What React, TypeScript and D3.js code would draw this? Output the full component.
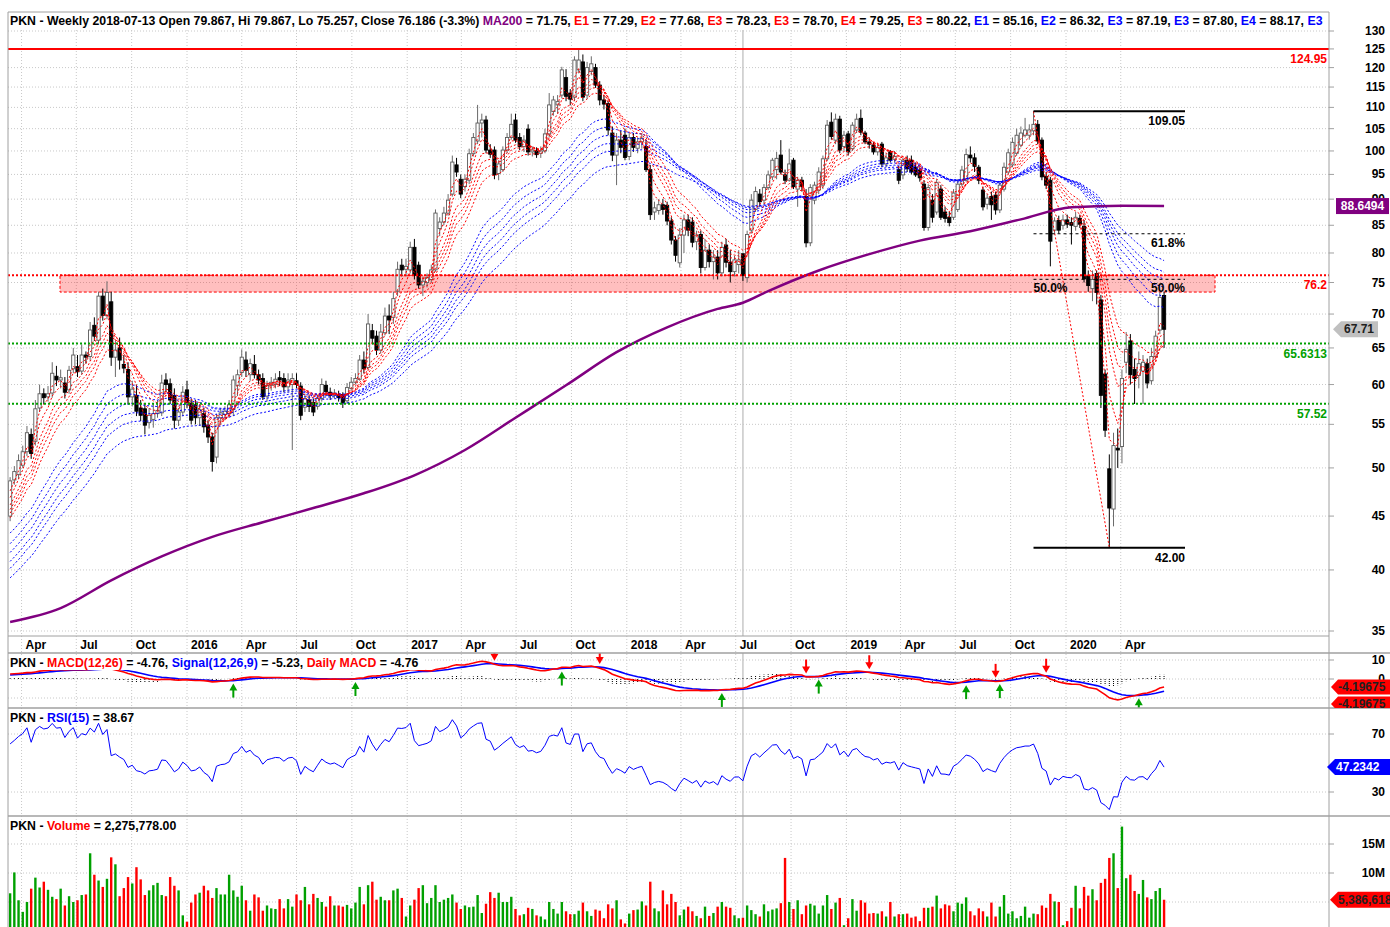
import React from 'react';
import * as d3 from 'd3';

// ---------- DATA ----------
const FIRST_WEEK = new Date(2015, 2, 13); // weekly candles, Fridays

const open = [
  45.0,48.7,49.3,50.3,51.8,53.8,53.0,57.0,58.8,58.4,
  58.9,61.1,60.6,60.2,59.3,62.1,62.4,61.8,64.0,63.8,
  68.3,66.1,72.8,69.8,71.9,63.7,65.0,62.7,62.0,58.4,
  58.6,57.0,56.9,55.2,55.6,56.3,56.4,60.6,60.1,58.6,
  55.5,56.5,59.3,57.6,57.4,55.8,56.3,54.9,53.5,51.2,
  55.8,56.2,56.3,56.8,59.9,61.6,63.3,61.3,62.7,61.3,
  60.8,58.5,59.9,60.0,60.9,60.8,59.7,60.0,60.5,59.8,
  57.1,58.0,57.7,57.2,58.2,59.9,59.0,58.6,58.7,58.7,
  57.9,59.5,60.3,60.7,63.3,62.3,67.5,66.7,64.7,67.2,
  69.7,69.5,73.6,77.9,77.2,77.1,81.0,77.9,74.6,75.0,
  75.5,77.1,84.4,85.6,87.3,91.0,97.0,94.0,92.5,93.8,
  99.4,102.2,106.3,107.0,100.2,100.2,95.2,96.0,100.2,103.0,
  107.0,103.0,101.0,104.9,99.8,100.0,99.5,100.0,103.8,109.0,
  110.6,113.0,117.4,113.5,112.5,119.4,121.5,113.0,119.0,120.0,
  115.5,111.8,110.9,104.0,99.1,102.4,103.5,98.8,103.0,100.6,
  102.0,101.0,96.0,87.5,87.8,88.9,88.8,85.8,82.3,78.3,
  83.2,86.0,85.6,82.0,83.3,77.5,80.5,78.5,79.3,76.6,
  81.4,78.4,76.8,78.0,79.867,75.8,84.1,88.0,91.0,89.8,
  92.3,94.5,96.0,99.1,94.9,93.8,98.0,92.0,93.8,90.5,
  81.8,89.8,91.8,92.8,98.3,106.5,102.4,107.2,101.0,103.8,
  100.5,104.7,107.4,104.0,102.0,101.3,99.8,101.5,97.2,99.8,
  98.2,96.0,94.9,98.0,98.0,96.5,95.9,93.0,84.6,89.8,
  87.5,92.0,87.5,86.5,86.5,88.0,93.0,93.8,99.1,98.5,
  96.5,91.8,89.0,90.5,90.8,87.9,92.0,95.5,97.0,99.5,
  101.3,103.5,103.5,104.5,106.0,102.4,94.6,93.8,84.1,85.9,
  85.0,86.0,85.5,84.8,86.3,84.8,76.0,74.0,76.5,72.2,
  61.4,49.9,45.7,52.2,52.4,63.0,66.0,62.0,61.2,61.8,
  62.8,60.5,63.8,67.6,72.9,
];
const high = [
  49.0,50.2,51.5,52.5,54.8,54.5,58.0,60.0,59.5,59.8,
  63.0,62.5,62.0,61.0,62.5,65.0,64.0,65.5,64.5,68.8,
  69.5,73.5,74.0,75.2,73.5,66.0,66.5,64.0,63.0,60.5,
  60.0,58.0,57.5,57.0,57.5,58.0,61.3,61.5,60.8,59.5,
  57.0,59.8,60.5,58.2,58.0,57.5,57.0,55.5,54.0,56.3,
  57.0,57.2,58.0,61.2,62.0,64.8,64.5,63.5,64.0,62.0,
  61.5,60.5,61.0,61.5,61.8,61.5,61.5,61.5,61.5,60.3,
  58.8,58.6,58.2,58.7,60.8,60.5,59.6,59.4,59.2,59.0,
  60.2,61.0,61.5,64.0,64.5,70.0,68.5,67.5,68.5,71.0,
  71.5,73.5,78.5,79.0,79.0,82.0,82.5,78.5,76.0,76.5,
  78.0,88.0,86.5,88.5,91.0,99.0,98.5,95.0,95.0,100.5,
  104.0,110.6,108.5,108.0,101.5,101.0,98.0,101.0,104.0,108.5,
  108.5,104.0,103.5,106.0,101.0,100.8,101.0,105.0,113.5,112.8,
  113.0,120.2,119.6,114.5,123.0,124.95,123.5,121.5,123.0,121.0,
  116.5,113.0,111.5,105.5,104.0,104.5,105.0,104.0,104.0,103.0,
  104.0,102.5,97.0,89.5,90.0,90.0,89.5,86.5,83.0,84.5,
  87.0,87.0,86.5,84.0,84.0,82.5,81.5,80.5,80.5,82.0,
  82.5,80.5,79.5,80.5,79.867,84.0,91.0,92.5,92.0,93.0,
  95.8,98.5,99.8,102.4,96.0,100.5,98.5,94.5,94.5,92.0,
  93.0,93.5,96.5,99.0,107.0,108.8,108.5,108.0,104.5,104.5,
  106.5,108.5,109.5,104.5,103.0,102.0,101.5,102.0,99.5,100.2,
  100.0,96.8,98.5,99.0,99.0,97.5,96.5,93.8,93.0,91.0,
  94.0,92.8,88.5,87.5,92.0,94.0,96.8,100.5,101.0,99.5,
  97.0,92.5,91.0,91.5,91.5,93.5,97.5,100.5,103.0,105.0,
  105.5,107.5,106.0,109.05,107.0,103.0,95.5,94.5,86.5,86.8,
  87.0,87.0,86.5,87.5,87.0,86.0,77.0,77.0,77.0,73.0,
  62.0,51.5,54.0,54.5,62.0,67.3,67.0,63.5,64.5,64.0,
  63.5,65.0,67.5,73.5,73.5,
];
const low = [
  44.5,48.2,48.8,50.0,51.3,51.0,52.5,56.5,57.5,57.8,
  58.3,59.8,59.5,58.2,58.8,61.5,61.0,61.3,62.8,63.2,
  66.0,65.5,69.0,69.2,62.5,61.0,62.0,61.5,57.5,57.2,
  56.0,55.4,53.8,54.5,54.6,55.8,56.0,59.0,57.5,54.5,
  54.8,56.0,57.0,55.0,55.0,54.8,54.0,52.8,49.6,50.5,
  55.0,55.5,55.8,56.0,58.5,61.0,61.0,60.5,60.8,60.0,
  58.0,57.8,59.2,59.5,59.8,59.0,59.0,52.0,59.5,55.5,
  56.5,56.5,56.0,56.8,57.8,58.5,58.0,58.2,57.8,57.0,
  57.5,59.2,60.0,60.5,61.5,62.0,65.5,64.0,64.2,66.8,
  67.0,68.5,72.8,76.0,76.0,76.5,75.5,74.0,72.8,74.2,
  75.0,76.8,83.0,85.0,86.8,90.5,94.5,90.2,91.5,93.0,
  98.8,101.5,103.0,99.5,98.5,94.0,93.8,95.5,99.5,102.5,
  101.8,100.2,99.8,99.0,98.8,98.5,98.5,99.5,103.0,108.0,
  108.5,112.2,111.5,110.5,111.5,118.5,111.5,112.0,118.0,114.8,
  110.5,109.5,103.5,97.8,92.8,99.5,98.0,98.0,99.8,99.5,
  100.5,95.5,86.0,86.0,87.0,87.0,85.0,81.5,78.5,77.5,
  80.0,83.0,81.0,80.5,76.5,77.0,77.5,75.5,75.5,76.0,
  77.5,75.0,76.0,76.5,75.257,75.0,83.5,87.5,88.5,89.0,
  91.8,93.8,94.0,95.0,93.0,93.5,92.0,88.5,91.5,81.0,
  81.2,89.0,91.0,92.0,97.8,102.5,101.5,99.5,100.0,99.0,
  100.0,104.0,103.5,101.5,100.5,99.2,99.0,96.5,96.5,97.5,
  97.5,93.0,94.0,95.5,95.0,94.5,93.5,84.0,84.0,85.5,
  87.0,86.0,85.5,84.8,86.0,87.5,92.5,93.5,97.5,95.5,
  93.0,87.8,88.0,86.0,87.0,87.3,91.5,95.0,96.5,99.0,
  100.8,103.0,102.5,103.5,101.5,93.8,92.0,77.7,83.3,83.5,
  84.2,84.5,81.5,84.0,84.5,75.0,73.5,72.0,71.5,57.0,
  53.5,42.0,44.0,50.0,50.5,61.5,60.0,57.5,59.5,57.5,
  59.5,60.0,63.5,67.0,65.0,
];
const close = [
  48.6,49.6,50.8,51.8,54.0,51.6,56.9,58.8,58.3,58.8,
  61.5,60.6,60.9,59.0,61.9,64.0,61.7,64.0,63.7,67.6,
  66.7,72.8,69.8,73.4,63.7,64.7,63.3,62.2,58.4,59.4,
  56.6,56.1,54.9,56.1,56.3,56.7,60.2,60.0,58.0,55.5,
  56.5,59.0,57.7,55.5,55.8,56.8,54.7,53.5,50.7,55.8,
  56.4,56.6,57.4,60.6,61.3,63.7,61.9,62.8,61.3,60.6,
  58.4,59.9,60.3,60.7,60.6,59.7,60.6,60.8,60.0,56.1,
  58.2,57.2,56.5,58.2,60.0,59.1,58.6,58.9,58.3,57.7,
  59.6,60.3,60.8,63.3,62.1,68.5,66.4,64.7,67.3,69.7,
  69.1,72.4,77.2,77.1,77.7,81.0,76.2,74.6,75.2,75.8,
  77.1,87.3,85.6,87.3,89.8,97.6,95.5,91.0,94.0,99.4,
  103.0,106.3,107.0,100.2,99.3,94.9,97.2,100.2,103.0,106.0,
  102.4,101.0,102.4,99.8,100.2,99.2,100.0,103.8,110.6,111.8,
  111.4,119.4,112.7,112.0,122.0,122.0,112.5,120.0,121.0,115.5,
  111.8,110.8,104.7,99.1,102.4,100.8,98.6,103.0,100.8,102.0,
  102.8,96.0,87.0,88.3,88.9,88.0,85.8,82.3,79.6,83.2,
  86.0,84.1,81.9,83.2,77.5,80.5,78.5,79.3,76.6,81.0,
  78.4,76.8,78.8,78.8,76.186,83.3,89.8,91.5,89.5,92.3,
  94.9,98.0,98.4,95.5,93.8,97.2,92.5,93.8,92.5,81.8,
  92.3,92.8,95.5,98.3,105.8,103.2,107.2,100.2,103.5,99.8,
  105.8,107.2,104.2,102.0,101.5,99.8,100.8,97.2,98.5,98.0,
  98.8,93.8,98.0,96.2,95.5,94.9,94.3,84.6,92.3,86.5,
  93.3,86.5,86.3,85.5,91.2,93.0,95.9,99.2,98.5,96.7,
  93.8,88.5,90.2,88.9,87.9,92.8,96.5,99.6,101.9,103.5,
  104.0,104.7,104.7,106.0,102.2,94.5,92.8,82.1,85.8,84.1,
  86.0,85.2,85.0,86.5,85.2,75.6,74.5,75.5,73.4,58.6,
  54.3,45.8,52.5,52.0,60.8,64.8,61.3,60.8,62.8,63.0,
  60.2,63.8,66.7,72.6,67.71,
];
// weekly volume, millions
const volumeM = [
  6.5,10.1,5.3,3.3,5.0,7.3,9.2,7.5,8.5,7.1,
  5.9,5.5,7.3,4.4,6.0,5.0,5.3,6.2,6.3,13.4,
  9.7,8.7,7.6,9.0,12.7,11.5,6.0,7.4,9.3,8.2,
  11.0,8.9,6.2,7.0,7.9,8.3,6.2,6.0,9.3,7.8,
  7.0,2.7,1.6,4.9,6.3,6.6,7.8,7.0,5.7,7.4,
  6.3,6.3,9.7,7.0,5.9,7.8,5.3,3.5,6.3,5.8,
  3.5,4.4,3.9,3.8,5.5,3.9,5.5,4.2,6.3,5.3,
  7.6,4.6,6.4,5.7,5.0,4.2,6.0,4.4,4.4,4.2,
  4.5,3.9,4.9,7.6,4.6,7.9,8.5,5.4,5.9,5.3,
  5.3,7.0,7.3,5.7,2.5,4.4,5.4,7.4,7.9,4.8,
  5.7,7.9,5.0,5.4,5.7,6.3,4.9,3.8,4.4,4.1,
  4.2,6.2,3.1,4.7,6.7,5.7,6.6,5.0,5.0,5.9,
  3.8,2.7,2.9,4.0,3.8,2.7,2.5,2.0,5.0,3.8,
  3.0,5.0,3.4,2.9,2.9,3.5,4.9,3.4,2.6,3.7,
  3.5,2.2,4.6,3.9,5.3,2.0,1.3,3.0,3.6,3.7,
  5.1,4.4,8.5,3.9,3.4,7.0,4.6,6.4,5.0,2.7,
  3.7,4.2,3.4,2.6,2.2,4.2,2.6,3.1,4.2,5.0,
  4.2,4.0,2.7,2.2,2.28,4.4,3.6,2.9,2.5,4.6,
  3.4,3.7,3.9,4.8,12.6,5.0,3.8,5.3,2.9,4.4,
  4.7,4.4,3.0,4.4,6.2,3.8,4.9,5.7,1.0,2.2,
  5.5,3.5,5.3,4.9,3.0,3.1,3.0,3.4,2.5,5.0,
  2.5,2.9,2.9,3.0,2.3,2.5,1.7,4.0,4.0,4.2,
  6.1,3.9,4.6,4.4,3.4,4.9,4.7,5.8,3.4,2.7,
  3.9,3.4,2.5,4.9,2.5,4.2,6.2,3.0,3.4,2.2,
  2.6,4.2,2.3,3.0,2.9,4.4,4.0,6.4,5.1,5.0,
  1.0,1.7,4.0,7.8,3.9,7.6,6.1,7.2,5.3,8.3,
  9.0,12.6,13.4,7.4,18.0,9.1,9.7,6.9,6.4,8.8,
  5.8,5.5,6.9,7.4,5.39,
];
// MA200 at sample weeks
const ma200Week = [0,12,24,36,48,60,72,84,96,108,120,132,144,156,168,174,180,192,204,216,228,240,252,264,274];
const ma200Value = [35.7,36.8,39.1,41.2,43.0,44.4,45.8,47.3,49.2,52.0,55.8,59.9,64.4,68.0,70.8,71.75,73.6,77.0,79.8,82.2,83.9,86.1,88.4,88.7,88.65];

// Guppy ribbons: periods and starting values read at the left edge
const shortPeriods = [3,5,8,10,12,15];
const shortSeeds = [46.5,46.0,45.4,45.0,44.7,44.3];
const longPeriods = [30,35,40,45,50,60];
const longSeeds = [43.0,42.0,41.2,40.4,39.8,39.0];
const MACD_FAST_SEED = 45.0, MACD_SLOW_SEED = 42.5, SIGNAL_SEED = 2.0;
const RSI_PREV_CLOSE = 46.0, RSI_GAIN_SEED = 0.5, RSI_LOSS_SEED = 0.4;

const macdBuyWeeks = [53,82,131,169,192,227,235,268];
const macdSellWeeks = [115,140,189,204,234,246];

const priceTicks = [130,125,120,115,110,105,100,95,90,85,80,75,70,65,60,55,50,45,40,35];
const quarterLabels = ['Apr','Jul','Oct','2016','Apr','Jul','Oct','2017','Apr','Jul','Oct','2018','Apr','Jul','Oct','2019','Apr','Jul','Oct','2020','Apr'];
const macdTicks = [10, 0];
const rsiTicks = [70, 30];
const volTicks = [15, 10];
const volTickLabels = ['15M','10M'];

const resistance = 124.95;
const zoneTop = 76.2, zoneBottom = 73.45;
const greenLevels = [65.6313, 57.52];
const greenLabels = ['65.6313', '57.52'];
const fibHighWeek = 243, fibLowWeek = 261, fibHigh = 109.05, fibLow = 42.0;
const cursorWeek = 174;

// ---------- helpers ----------
const FONT = "'Liberation Sans', Arial, sans-serif";
const L = 8, AX = 1329;
const MAIN_T = 12, MAIN_B = 636, STRIP_B = 653, MACD_B = 708, RSI_B = 816, VOL_B = 927;

function ema(vals: number[], period: number, seed: number) {
  const k = 2 / (period + 1);
  let e = seed;
  return vals.map(v => (e = e + k * (v - e)));
}

function tag(x0: number, x1: number, y: number, h = 15, tip = 7) {
  return `M${x0},${y} L${x0 + tip},${y - h / 2} L${x1},${y - h / 2} L${x1},${y + h / 2} L${x0 + tip},${y + h / 2} Z`;
}

export default function App() {
  const n = close.length;
  const dates = close.map((_, i) => d3.timeWeek.offset(FIRST_WEEK, i));
  const x = d3.scaleTime().domain([new Date(2016, 0, 1), new Date(2020, 0, 1)]).range([187, 1066]);
  const xi = (i: number) => x(dates[i]);
  const y = d3.scaleLog().domain([35, 130]).range([631, 31]);
  const yM = d3.scaleLinear().domain([-10, 10]).range([698, 660]);
  const yR = d3.scaleLinear().domain([30, 70]).range([792, 734]);
  const yV = d3.scaleLinear().domain([0, 15]).range([931, 844]);

  const quarters = d3.timeMonth.every(3)!.range(new Date(2015, 3, 1), new Date(2020, 4, 1));

  const shortEmas = shortPeriods.map((p, k) => ema(close, p, shortSeeds[k]));
  const longEmas = longPeriods.map((p, k) => ema(close, p, longSeeds[k]));
  const fast = ema(close, 12, MACD_FAST_SEED);
  const slow = ema(close, 26, MACD_SLOW_SEED);
  const macd = fast.map((f, i) => f - slow[i]);
  const signal = ema(macd, 9, SIGNAL_SEED);
  const hist = macd.map((m, i) => m - signal[i]);
  const rsi: number[] = [];
  {
    let prev = RSI_PREV_CLOSE, g = RSI_GAIN_SEED, l = RSI_LOSS_SEED;
    for (const c of close) {
      const ch = c - prev;
      g = (g * 14 + Math.max(ch, 0)) / 15;
      l = (l * 14 + Math.max(-ch, 0)) / 15;
      rsi.push(100 - 100 / (1 + g / l));
      prev = c;
    }
  }

  const pricePath = (arr: number[]) => d3.line<number>().x((_, i) => xi(i)).y(v => y(v))(arr) || '';
  const maPath = d3.line<number>().x((_, k) => xi(ma200Week[k])).y(v => y(v)).curve(d3.curveMonotoneX)(ma200Value) || '';
  const macdPath = d3.line<number>().x((_, i) => xi(i)).y(v => yM(v))(macd) || '';
  const sigPath = d3.line<number>().x((_, i) => xi(i)).y(v => yM(v))(signal) || '';
  const rsiPath = d3.line<number>().x((_, i) => xi(i)).y(v => yR(v))(rsi) || '';

  const grid = '#c8c8c8';
  const headerSegs: [string, string][] = [
    ['PKN - Weekly 2018-07-13 Open 79.867, Hi 79.867, Lo 75.257, Close 76.186 (-3.3%) ', '#000'],
    ['MA200', '#800080'], [' = 71.75, ', '#000'],
    ['E1', '#f00'], [' = 77.29, ', '#000'], ['E2', '#f00'], [' = 77.68, ', '#000'],
    ['E3', '#f00'], [' = 78.23, ', '#000'], ['E3', '#f00'], [' = 78.70, ', '#000'],
    ['E4', '#f00'], [' = 79.25, ', '#000'], ['E3', '#f00'], [' = 80.22, ', '#000'],
    ['E1', '#00f'], [' = 85.16, ', '#000'], ['E2', '#00f'], [' = 86.32, ', '#000'],
    ['E3', '#00f'], [' = 87.19, ', '#000'], ['E3', '#00f'], [' = 87.80, ', '#000'],
    ['E4', '#00f'], [' = 88.17, ', '#000'], ['E3', '#00f'],
  ];

  const xHi = xi(fibHighWeek), xLo = xi(fibLowWeek);
  const fibX0 = xHi, fibX1 = 1185;
  const fib618 = fibLow + 0.618 * (fibHigh - fibLow);
  const fib50 = fibLow + 0.5 * (fibHigh - fibLow);
  const txt = { fontFamily: FONT, fontSize: 12, fontWeight: 700 } as const;
  const htxt = { fontFamily: FONT, fontSize: 12.3, fontWeight: 700 } as const;

  return (
    <svg width={1390} height={927} style={{ position: 'absolute', left: 0, top: 0, background: '#fff' }}>
      <defs>
        <clipPath id="cMain"><rect x={L} y={MAIN_T} width={AX - L} height={MAIN_B - MAIN_T} /></clipPath>
        <clipPath id="cMacd"><rect x={L} y={STRIP_B} width={AX - L} height={MACD_B - STRIP_B} /></clipPath>
        <clipPath id="cRsi"><rect x={L} y={MACD_B} width={AX - L} height={RSI_B - MACD_B} /></clipPath>
        <clipPath id="cVol"><rect x={L} y={RSI_B} width={AX - L} height={VOL_B - RSI_B} /></clipPath>
        <clipPath id="cHead"><rect x={L} y={MAIN_T} width={AX - L - 2} height={20} /></clipPath>
        <clipPath id="cRight"><rect x={AX} y={STRIP_B} width={1390 - AX} height={MACD_B - STRIP_B} /></clipPath>
        <clipPath id="c90"><rect x={AX} y={0} width={61} height={198} /></clipPath>
      </defs>
      <rect x={0} y={0} width={1390} height={927} fill="#fff" />

      {/* vertical quarter grid */}
      {quarters.map((q, k) => (
        <line key={'vq' + k} x1={x(q)} x2={x(q)} y1={30} y2={VOL_B} stroke={grid} strokeDasharray="1,2" />
      ))}
      {/* horizontal grids */}
      {priceTicks.map(t => (
        <line key={'hp' + t} x1={L} x2={AX} y1={y(t)} y2={y(t)} stroke={grid} strokeDasharray="1,2" />
      ))}
      {[10, 0, -10].map(t => (
        <line key={'hm' + t} x1={L} x2={AX} y1={yM(t)} y2={yM(t)} stroke={grid} strokeDasharray="1,2" />
      ))}
      {[70, 30].map(t => (
        <line key={'hr' + t} x1={L} x2={AX} y1={yR(t)} y2={yR(t)} stroke={grid} strokeDasharray="1,2" />
      ))}
      {[15, 10, 5].map(t => (
        <line key={'hv' + t} x1={L} x2={AX} y1={yV(t)} y2={yV(t)} stroke={grid} strokeDasharray="1,2" />
      ))}

      {/* cursor */}
      <line x1={xi(cursorWeek)} x2={xi(cursorWeek)} y1={30} y2={VOL_B} stroke="#c8c8c8" strokeWidth={1.5} />

      {/* ---------- MAIN PANEL ---------- */}
      <g clipPath="url(#cMain)">
        <rect x={60} y={y(zoneTop)} width={1215 - 60} height={y(zoneBottom) - y(zoneTop)} fill="#ff0000" fillOpacity={0.25}
          stroke="#ff0000" strokeDasharray="3,2" strokeWidth={1} />
        {close.map((c, i) => {
          const o = open[i];
          const hi = Math.max(high[i], o, c), lo = Math.min(low[i], o, c);
          const up = c >= o;
          const cx = xi(i);
          const top = y(Math.max(o, c)), bot = y(Math.min(o, c));
          return (
            <g key={'c' + i}>
              <line x1={cx} x2={cx} y1={y(hi)} y2={y(lo)} stroke={up ? '#6a6a6a' : '#000'} strokeWidth={1} />
              <rect x={cx - 1.6} y={top} width={3.2} height={Math.max(bot - top, 1)}
                fill={up ? '#fff' : '#000'} stroke={up ? '#5a5a5a' : '#000'} strokeWidth={0.9} />
            </g>
          );
        })}
        {longEmas.map((arr, k) => (
          <path key={'le' + k} d={pricePath(arr)} fill="none" stroke="#0000ff" strokeWidth={1} strokeDasharray="2,2" />
        ))}
        {shortEmas.map((arr, k) => (
          <path key={'se' + k} d={pricePath(arr)} fill="none" stroke="#ff0000" strokeWidth={1} strokeDasharray="2,2" />
        ))}
        <path d={maPath} fill="none" stroke="#800080" strokeWidth={2.5} />
        <line x1={L} x2={AX} y1={y(resistance)} y2={y(resistance)} stroke="#ff0000" strokeWidth={2} />
        <line x1={L} x2={AX} y1={y(zoneTop)} y2={y(zoneTop)} stroke="#ff0000" strokeWidth={2} strokeDasharray="2,2" />
        {greenLevels.map(v => (
          <line key={'g' + v} x1={L} x2={AX} y1={y(v)} y2={y(v)} stroke="#00a000" strokeWidth={2} strokeDasharray="2,2" />
        ))}
        <line x1={xHi} x2={xLo} y1={y(fibHigh)} y2={y(fibLow)} stroke="#ff0000" strokeWidth={1} strokeDasharray="2,2" />
        <line x1={fibX0} x2={fibX1} y1={y(fibHigh)} y2={y(fibHigh)} stroke="#000" strokeWidth={2} />
        <line x1={fibX0} x2={fibX1} y1={y(fibLow)} y2={y(fibLow)} stroke="#000" strokeWidth={2} />
        <line x1={fibX0} x2={fibX1} y1={y(fib618)} y2={y(fib618)} stroke="#000" strokeWidth={1} strokeDasharray="3,3" />
        <line x1={fibX0} x2={fibX1} y1={y(fib50)} y2={y(fib50)} stroke="#000" strokeWidth={1} strokeDasharray="3,3" />
        <text x={fibX1} y={y(fibHigh) + 14} textAnchor="end" {...txt}>109.05</text>
        <text x={fibX1} y={y(fibLow) + 14} textAnchor="end" {...txt}>42.00</text>
        <text x={fibX1} y={y(fib618) + 13} textAnchor="end" {...txt}>61.8%</text>
        <text x={fibX1} y={y(fib50) + 13} textAnchor="end" {...txt}>50.0%</text>
        <text x={fibX0} y={y(fib50) + 13} {...txt}>50.0%</text>
        <text x={AX - 2} y={y(resistance) + 14} textAnchor="end" {...txt} fill="#ff0000">124.95</text>
        <text x={AX - 2} y={y(zoneTop) + 14} textAnchor="end" {...txt} fill="#ff0000">76.2</text>
        {greenLevels.map((v, k) => (
          <text key={'gl' + k} x={AX - 2} y={y(v) + 14} textAnchor="end" {...txt} fill="#00a000">{greenLabels[k]}</text>
        ))}
      </g>

      {/* header */}
      <rect x={L} y={MAIN_T} width={AX - L} height={18} fill="#fff" />
      <g clipPath="url(#cHead)">
        <text x={10} y={25} {...htxt}>
          {headerSegs.map(([s, c], k) => <tspan key={k} fill={c}>{s}</tspan>)}
        </text>
      </g>

      {/* date strip */}
      <rect x={L} y={MAIN_B} width={AX - L} height={STRIP_B - MAIN_B} fill="#fff" />
      {quarters.map((q, k) => (
        <g key={'ql' + k}>
          <line x1={x(q)} x2={x(q)} y1={MAIN_B} y2={STRIP_B} stroke={grid} strokeDasharray="1,2" />
          <text x={x(q) + 4} y={649} {...txt}>{quarterLabels[k]}</text>
        </g>
      ))}

      {/* ---------- MACD ---------- */}
      <g clipPath="url(#cMacd)">
        {hist.map((h, i) => (
          <line key={'h' + i} x1={xi(i)} x2={xi(i)} y1={yM(0)} y2={yM(h)} stroke="#000" strokeWidth={1} strokeDasharray="1,1" />
        ))}
        <path d={sigPath} fill="none" stroke="#0000ff" strokeWidth={1.6} />
        <path d={macdPath} fill="none" stroke="#ff0000" strokeWidth={1.6} />
        {macdSellWeeks.map(i => {
          const tip = Math.min(yM(macd[i]), yM(signal[i])) - 3;
          const cx = xi(i);
          return (
            <g key={'s' + i} fill="#ff0000" stroke="#ff0000">
              <line x1={cx} x2={cx} y1={tip - 14} y2={tip - 5} strokeWidth={2} />
              <path d={`M${cx - 4},${tip - 7} L${cx + 4},${tip - 7} L${cx},${tip} Z`} stroke="none" />
            </g>
          );
        })}
        {macdBuyWeeks.map(i => {
          const tip = Math.max(yM(macd[i]), yM(signal[i])) + 3;
          const cx = xi(i);
          return (
            <g key={'b' + i} fill="#00a000" stroke="#00a000">
              <line x1={cx} x2={cx} y1={tip + 5} y2={tip + 14} strokeWidth={2} />
              <path d={`M${cx - 4},${tip + 7} L${cx + 4},${tip + 7} L${cx},${tip} Z`} stroke="none" />
            </g>
          );
        })}
        <rect x={L + 1} y={655} width={416} height={15} fill="#fff" />
        <text x={10} y={667} {...htxt}>
          <tspan>PKN - </tspan><tspan fill="#ff0000">MACD(12,26)</tspan><tspan> = -4.76, </tspan>
          <tspan fill="#0000ff">Signal(12,26,9)</tspan><tspan> = -5.23, </tspan>
          <tspan fill="#ff0000">Daily MACD</tspan><tspan> = -4.76</tspan>
        </text>
      </g>

      {/* ---------- RSI ---------- */}
      <g clipPath="url(#cRsi)">
        <path d={rsiPath} fill="none" stroke="#0000ff" strokeWidth={1} />
        <text x={10} y={722} {...htxt}>
          <tspan>PKN - </tspan><tspan fill="#0000ff">RSI(15)</tspan><tspan> = 38.67</tspan>
        </text>
      </g>

      {/* ---------- VOLUME ---------- */}
      <g clipPath="url(#cVol)">
        {volumeM.map((v, i) => {
          const up = close[i] >= open[i];
          return <rect key={'v' + i} x={xi(i) - 1.2} y={yV(v)} width={2.4} height={VOL_B - yV(v)} fill={up ? '#00a000' : '#ff0000'} />;
        })}
        <text x={10} y={830} {...htxt}>
          <tspan>PKN - </tspan><tspan fill="#ff0000">Volume</tspan><tspan> = 2,275,778.00</tspan>
        </text>
      </g>

      {/* frames */}
      <line x1={L} x2={L} y1={MAIN_T} y2={VOL_B} stroke="#a0a0a0" />
      <line x1={L} x2={AX} y1={MAIN_T} y2={MAIN_T} stroke="#a0a0a0" />
      <line x1={AX} x2={AX} y1={MAIN_T} y2={VOL_B} stroke="#a0a0a0" />
      <line x1={L} x2={AX} y1={MAIN_B} y2={MAIN_B} stroke="#a0a0a0" />
      <line x1={L} x2={1390} y1={STRIP_B} y2={STRIP_B} stroke="#a0a0a0" strokeWidth={1.5} />
      <line x1={L} x2={1390} y1={MACD_B} y2={MACD_B} stroke="#a0a0a0" strokeWidth={1.5} />
      <line x1={L} x2={1390} y1={RSI_B} y2={RSI_B} stroke="#a0a0a0" strokeWidth={1.5} />

      {/* right axis */}
      {priceTicks.map(t => (
        <g key={'pt' + t}>
          <line x1={AX} x2={AX + 5} y1={y(t)} y2={y(t)} stroke="#a0a0a0" />
          <text x={1385} y={y(t) + 4} textAnchor="end" {...txt} clipPath={t === 90 ? 'url(#c90)' : undefined}>{t}</text>
        </g>
      ))}
      {macdTicks.map(t => (
        <g key={'mt' + t}>
          <line x1={AX} x2={AX + 5} y1={yM(t)} y2={yM(t)} stroke="#a0a0a0" />
          <text x={1385} y={yM(t) + 4} textAnchor="end" {...txt}>{t}</text>
        </g>
      ))}
      {rsiTicks.map(t => (
        <g key={'rt' + t}>
          <line x1={AX} x2={AX + 5} y1={yR(t)} y2={yR(t)} stroke="#a0a0a0" />
          <text x={1385} y={yR(t) + 4} textAnchor="end" {...txt}>{t}</text>
        </g>
      ))}
      {volTicks.map((t, k) => (
        <g key={'vt' + t}>
          <line x1={AX} x2={AX + 5} y1={yV(t)} y2={yV(t)} stroke="#a0a0a0" />
          <text x={1385} y={yV(t) + 4} textAnchor="end" {...txt}>{volTickLabels[k]}</text>
        </g>
      ))}

      {/* value tags */}
      <rect x={1336} y={y(88.6494) - 8} width={53} height={16} fill="#800080" />
      <text x={1362.5} y={y(88.6494) + 4} textAnchor="middle" {...txt} fill="#fff">88.6494</text>
      <path d={tag(1333, 1378, y(close[n - 1]), 16, 8)} fill="#c0c0c0" />
      <text x={1359} y={y(close[n - 1]) + 4} textAnchor="middle" {...txt} fill="#202020">67.71</text>
      <g clipPath="url(#cRight)">
        <path d={tag(1331, 1390, yM(-4.19675), 15, 7)} fill="#ff0000" />
        <text x={1338} y={yM(-4.19675) + 4} {...txt} fill="#202020">-4.19675</text>
        <path d={tag(1331, 1390, 704, 15, 7)} fill="#ff0000" />
        <text x={1338} y={708} {...txt} fill="#202020">-4.19675</text>
      </g>
      <path d={tag(1327, 1390, yR(47.2342), 16, 8)} fill="#0000ff" />
      <text x={1336} y={yR(47.2342) + 4} {...txt} fill="#fff">47.2342</text>
      <path d={tag(1330, 1390, yV(5.3866), 16, 8)} fill="#ff0000" />
      <text x={1338} y={yV(5.3866) + 4} {...txt} fill="#202020">5,386,618</text>
    </svg>
  );
}
